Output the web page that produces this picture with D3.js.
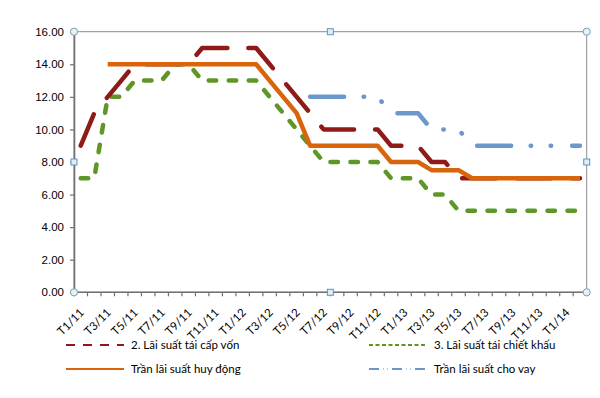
<!DOCTYPE html>
<html>
<head>
<meta charset="utf-8">
<script src="https://cdn.jsdelivr.net/npm/d3@7"></script>
<style>
  body { margin: 0; background: #fff; }
  svg  { display: block; font-family: Lato, "Open Sans", sans-serif; }
</style>
</head>
<body>
<svg id="chart" width="600" height="398"></svg>
<script>
"use strict";

// month categories, Jan 2011 .. Feb 2014
const months = [
  'T1/11','T2/11','T3/11','T4/11','T5/11','T6/11','T7/11','T8/11','T9/11','T10/11','T11/11','T12/11',
  'T1/12','T2/12','T3/12','T4/12','T5/12','T6/12','T7/12','T8/12','T9/12','T10/12','T11/12','T12/12',
  'T1/13','T2/13','T3/13','T4/13','T5/13','T6/13','T7/13','T8/13','T9/13','T10/13','T11/13','T12/13',
  'T1/14','T2/14'
];

// 2. refinancing rate
const refinance  = [9,11,12,13,14,14,14,14,14,15,15,15,15,15,14,13,12,11,10,10,10,10,10,9,9,9,8,8,7,7,7,7,7,7,7,7,7,7];
// 3. discount rate
const discount   = [7,7,12,12,13,13,13,14,14,13,13,13,13,13,12,11,10,9,8,8,8,8,8,7,7,7,6,6,5,5,5,5,5,5,5,5,5,5];
// deposit rate cap
const depositCap = [null,null,14,14,14,14,14,14,14,14,14,14,14,14,13,12,11,9,9,9,9,9,9,8,8,8,7.5,7.5,7.5,7,7,7,7,7,7,7,7,7];
// lending rate cap
const lendingCap = [null,null,null,null,null,null,null,null,null,null,null,null,null,null,null,null,null,
                    12,12,12,12,12,12,11,11,11,10,10,10,9,9,9,9,9,9,9,9,9];

const yTicks = [0, 2, 4, 6, 8, 10, 12, 14, 16];

const seriesNames = [
  '2. Lãi suất tái cấp vốn',
  '3. Lãi suất tái chiết khấu',
  'Trần lãi suất huy động',
  'Trần lãi suất cho vay'
];

// drawing order: lending, discount, refinance, deposit on top
const series = [
  { name: seriesNames[3], values: lendingCap, color: '#6C97CD', dash: '34 19.5 0.5 19.5 0.5 21', legendDash: '10 4 0.5 4 0.5 4', col: 1, row: 1 },
  { name: seriesNames[1], values: discount,   color: '#5F9628', dash: '7.5 12.5',               legendDash: '4 2.5',             col: 1, row: 0 },
  { name: seriesNames[0], values: refinance,  color: '#8E1B17', dash: '34 21',                  legendDash: '9 8',               col: 0, row: 0 },
  { name: seriesNames[2], values: depositCap, color: '#D8650C', dash: null,                     legendDash: null,                col: 0, row: 1 },
];

const W = 600, H = 398;
const margin = { top: 31.7, right: 13.3, bottom: 105.7, left: 74 };
const svg = d3.select('#chart');

const x = d3.scaleBand()
            .domain(months)
            .range([margin.left, W - margin.right])
            .padding(0);
const bw = x.bandwidth();
const cx = (m) => x(m) + bw / 2;

const y = d3.scaleLinear()
            .domain([0, 16])
            .range([H - margin.bottom, margin.top]);

const x0 = margin.left, x1 = W - margin.right,
      y0 = H - margin.bottom, y1 = margin.top;

// plot area border
svg.append('rect')
   .attr('x', x0).attr('y', y1)
   .attr('width', x1 - x0).attr('height', y0 - y1)
   .attr('fill', 'none')
   .attr('stroke', '#8C8C8C')
   .attr('stroke-width', 1);

// y axis
const yAxis = d3.axisLeft(y)
                .tickValues(yTicks)
                .tickFormat(d3.format('.2f'))
                .tickSize(4)
                .tickPadding(6);
const gy = svg.append('g')
              .attr('transform', `translate(${x0},0)`)
              .call(yAxis);
gy.select('.domain').attr('stroke', '#6E7275').attr('stroke-width', 1.6);
gy.selectAll('.tick line').attr('stroke', '#6E7275').attr('stroke-width', 1.2);
gy.selectAll('.tick text')
  .attr('fill', '#000')
  .style('font-size', '11.5px');

// x axis: ticks on category boundaries, labels every other month
const gx = svg.append('g').attr('class', 'x-axis');
gx.append('line')
  .attr('x1', x0).attr('x2', x1)
  .attr('y1', y0).attr('y2', y0)
  .attr('stroke', '#6E7275').attr('stroke-width', 1.6);
gx.selectAll('line.tick')
  .data(months.map(m => x(m)).concat([x1]))
  .enter().append('line')
    .attr('class', 'tick')
    .attr('x1', d => d).attr('x2', d => d)
    .attr('y1', y0).attr('y2', y0 + 4)
    .attr('stroke', '#6E7275').attr('stroke-width', 1.2);
gx.selectAll('text')
  .data(months.filter((m, i) => i % 2 === 0))
  .enter().append('text')
    .attr('transform', m => `translate(${cx(m) + 4},${y0 + 21}) rotate(-45)`)
    .attr('text-anchor', 'end')
    .attr('fill', '#000')
    .style('font-size', '11.5px')
    .text(m => m);

// series lines
const line = d3.line()
               .defined(d => d != null)
               .x((d, i) => cx(months[i]))
               .y(d => y(d));

svg.append('g')
   .attr('class', 'series')
 .selectAll('path')
   .data(series)
 .enter().append('path')
   .attr('d', s => line(s.values))
   .attr('fill', 'none')
   .attr('stroke', s => s.color)
   .attr('stroke-width', 4.5)
   .attr('stroke-linejoin', 'round')
   .attr('stroke-linecap', s => s.dash ? 'round' : 'butt')
   .attr('stroke-dasharray', s => s.dash);

// selection handles of the plot area
const corners = [[x0, y1], [x1, y1], [x0, y0], [x1, y0]];
const mids    = [[(x0 + x1) / 2, y1], [(x0 + x1) / 2, y0], [x0, (y0 + y1) / 2], [x1, (y0 + y1) / 2]];
svg.append('g')
 .selectAll('circle')
   .data(corners)
 .enter().append('circle')
   .attr('cx', d => d[0]).attr('cy', d => d[1]).attr('r', 3.6)
   .attr('fill', '#E4F1F7').attr('stroke', '#7E9FB3').attr('stroke-width', 1);
svg.append('g')
 .selectAll('rect')
   .data(mids)
 .enter().append('rect')
   .attr('x', d => d[0] - 3).attr('y', d => d[1] - 3)
   .attr('width', 6).attr('height', 6)
   .attr('fill', '#DDEEF8').attr('stroke', '#5F93C0').attr('stroke-width', 1);

// legend
const legend = svg.append('g').attr('class', 'legend');
const legX = [66, 369], legY = [345, 369];
const item = legend.selectAll('g')
                   .data(series)
                 .enter().append('g')
                   .attr('transform', s => `translate(${legX[s.col]},${legY[s.row]})`);
item.append('line')
    .attr('x1', 0).attr('x2', 58)
    .attr('stroke', s => s.color)
    .attr('stroke-width', 2)
    .attr('stroke-dasharray', s => s.legendDash);
item.append('text')
    .attr('x', 65)
    .attr('dy', '0.35em')
    .attr('fill', '#000')
    .style('font-size', '11.5px')
    .text(s => s.name);
</script>
</body>
</html>
